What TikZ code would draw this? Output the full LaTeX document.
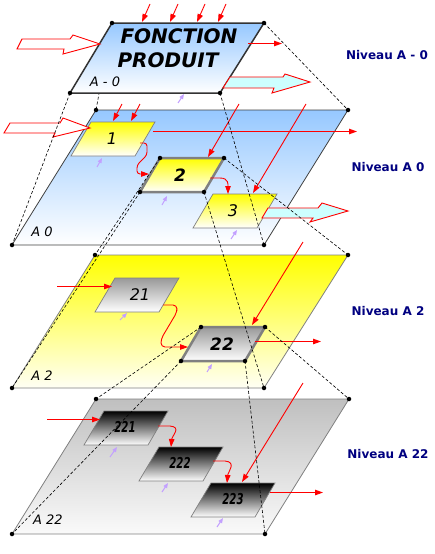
\documentclass[tikz,border=0pt]{standalone}
\usepackage{fontspec}
\setsansfont{DejaVu Sans}
\usetikzlibrary{arrows.meta}

\definecolor{skyblue}{RGB}{150,200,255}
\definecolor{mechpurple}{RGB}{195,160,255}
\definecolor{paleturq}{RGB}{205,255,255}
\definecolor{navy}{RGB}{0,0,128}

% corners of a skewed box, top left corner given
\newcommand{\pgram}[3]{%
  \coordinate (#1-nw) at (#2,#3);
  \coordinate (#1-ne) at (#2+64,#3);
  \coordinate (#1-se) at (#2+44,#3+34);
  \coordinate (#1-sw) at (#2-20,#3+34);}

\begin{document}
\begin{tikzpicture}[x=1pt, y=-1pt,
  dot/.style={circle, fill=black, inner sep=0pt, minimum size=4.5pt},
  feed/.style={-{Triangle[length=8pt,width=5.5pt]}, red, line width=0.9pt},
  mech/.style={-{Triangle[length=5pt,width=4pt]}, mechpurple, line width=1pt},
  proj/.style={dash pattern=on 3pt off 2pt, line width=0.6pt},
  hollow/.style={draw=red, line width=0.9pt, line join=miter},
  plainbox/.style={draw=gray, line width=0.7pt},
  mainbox/.style={draw=gray, line width=2.5pt},
  numtext/.style={font=\sffamily\itshape\fontsize{16}{16}\selectfont},
  levelname/.style={font=\sffamily\itshape\fontsize{13}{13}\selectfont},
  niveau/.style={font=\sffamily\bfseries\fontsize{12}{14}\selectfont, text=navy}]
  \useasboundingbox (0,0) rectangle (434,554);

  % corners of the planes
  \coordinate (t-nw) at (112,23);  \coordinate (t-ne) at (264,23);
  \coordinate (t-se) at (220,93);  \coordinate (t-sw) at (70,93);
  \coordinate (a-nw) at (96,110);  \coordinate (a-ne) at (348,110);
  \coordinate (a-se) at (264,245); \coordinate (a-sw) at (12,245);
  \coordinate (b-nw) at (95,255);  \coordinate (b-ne) at (348,255);
  \coordinate (b-se) at (264,388); \coordinate (b-sw) at (12,388);
  \coordinate (c-nw) at (96,399);  \coordinate (c-ne) at (349,399);
  \coordinate (c-se) at (265,534); \coordinate (c-sw) at (12,534);

  % boxes
  \pgram{box1}{91}{122}   \pgram{box2}{160}{158}  \pgram{box3}{213}{194}
  \pgram{box21}{115}{278} \pgram{box22}{201}{327}
  \pgram{box221}{104}{411} \pgram{box222}{159}{447} \pgram{box223}{211}{483}

  % ---------- Level A 0 ----------
  \shade[top color=skyblue, bottom color=white] (a-nw) -- (a-ne) -- (a-se) -- (a-sw) -- cycle;
  \draw[black!75, line width=0.8pt] (a-nw) -- (a-ne) -- (a-se) -- (a-sw) -- cycle;
  \node[levelname] (lblA0) at (42,232) {A 0};

  \shadedraw[plainbox, top color=yellow, bottom color=white] (box1-nw) -- (box1-ne) -- (box1-se) -- (box1-sw) -- cycle;
  \shadedraw[mainbox, top color=yellow, bottom color=white] (box2-nw) -- (box2-ne) -- (box2-se) -- (box2-sw) -- cycle;
  \shadedraw[plainbox, top color=yellow, bottom color=white] (box3-nw) -- (box3-ne) -- (box3-se) -- (box3-sw) -- cycle;
  \node[numtext] (n1) at (112,139) {1};
  \node[numtext, font=\sffamily\bfseries\itshape\fontsize{17}{17}\selectfont] (n2) at (180,175) {2};
  \node[numtext] (n3) at (233,211) {3};

  % inputs and outputs of A 0
  \coordinate (a-in1) at (122,104); \coordinate (a-in1e) at (113,121);
  \coordinate (a-in2) at (140,104); \coordinate (a-in2e) at (131,121);
  \draw[feed] (a-in1) -- (a-in1e);
  \draw[feed] (a-in2) -- (a-in2e);
  \coordinate (box1-out) at (153,131.5); \coordinate (a-out1) at (357,131.5);
  \draw[feed] (box1-out) -- (a-out1);
  \coordinate (box1-r) at (140,143); \coordinate (box2-l) at (149,174);
  \draw[feed, rounded corners=3pt] (box1-r) -- (147,143) -- (147,155) -- (137,165) -- (137,174) -- (box2-l);
  \coordinate (box2-r) at (210,178); \coordinate (box3-t) at (228,194);
  \draw[feed] (box2-r) -- (220,178) .. controls (229,178) and (228,185) .. (box3-t);
  \coordinate (a-ctl1) at (239,104); \coordinate (box2-t) at (208,157);
  \draw[feed] (a-ctl1) -- (box2-t);
  \coordinate (a-ctl2) at (306,104); \coordinate (box3-t2) at (253,193);
  \draw[feed] (a-ctl2) -- (box3-t2);
  \draw[hollow, fill=white] (4,133) -- (10,123) -- (60,123) -- (63,118) -- (90,128)
    -- (53,137) -- (55,133) -- cycle;
  \draw[hollow, fill=paleturq] (262,218) -- (268,208) -- (318,208) -- (322,203) -- (348,211)
    -- (310,222) -- (313,218) -- cycle;
  \draw[mech] (97,167) -- (102,158);
  \draw[mech] (162,205) -- (167,196);
  \draw[mech] (231,239) -- (237,230);

  % ---------- Level A 2 ----------
  \shade[top color=yellow, bottom color=yellow!4] (b-nw) -- (b-ne) -- (b-se) -- (b-sw) -- cycle;
  \draw[gray, line width=0.8pt] (b-nw) -- (b-ne) -- (b-se) -- (b-sw) -- cycle;
  \node[levelname] (lblA2) at (42,376) {A 2};

  \shadedraw[plainbox, top color=black!40, bottom color=white] (box21-nw) -- (box21-ne) -- (box21-se) -- (box21-sw) -- cycle;
  \shadedraw[mainbox, top color=black!40, bottom color=white] (box22-nw) -- (box22-ne) -- (box22-se) -- (box22-sw) -- cycle;
  \node[numtext] (n21) at (140,295) {21};
  \node[numtext, font=\sffamily\bfseries\itshape\fontsize{17}{17}\selectfont] (n22) at (222,344) {22};

  \coordinate (b-in) at (57,286.5); \coordinate (box21-l) at (112,286.5);
  \draw[feed] (b-in) -- (box21-l);
  \coordinate (box21-r) at (163,305); \coordinate (box22-l) at (188,347);
  \draw[feed, rounded corners=4pt] (box21-r) -- (177,305) -- (177,312) -- (161,339) -- (161,347) -- (box22-l);
  \coordinate (b-ctl) at (303,242); \coordinate (box22-t) at (252,325);
  \draw[feed] (b-ctl) -- (box22-t);
  \coordinate (box22-r) at (255,341.5); \coordinate (b-out) at (321,341.5);
  \draw[feed] (box22-r) -- (b-out);
  \draw[mech] (120,320) -- (127,313);
  \draw[mech] (207,372) -- (212,364);

  % ---------- Level A 22 ----------
  \shade[top color=black!25, bottom color=black!2] (c-nw) -- (c-ne) -- (c-se) -- (c-sw) -- cycle;
  \draw[gray, line width=0.8pt] (c-nw) -- (c-ne) -- (c-se) -- (c-sw) -- cycle;
  \node[levelname] (lblA22) at (48,520) {A 22};

  \shadedraw[plainbox, top color=black, middle color=black!25, bottom color=white] (box221-nw) -- (box221-ne) -- (box221-se) -- (box221-sw) -- cycle;
  \shadedraw[plainbox, top color=black, middle color=black!25, bottom color=white] (box222-nw) -- (box222-ne) -- (box222-se) -- (box222-sw) -- cycle;
  \shadedraw[plainbox, top color=black, middle color=black!25, bottom color=white] (box223-nw) -- (box223-ne) -- (box223-se) -- (box223-sw) -- cycle;
  \node[font=\sffamily\bfseries\itshape\fontsize{15}{15}\selectfont] (n221) at (125,427) {\scalebox{0.68}[1]{221}};
  \node[font=\sffamily\bfseries\itshape\fontsize{15}{15}\selectfont] (n222) at (180,463) {\scalebox{0.68}[1]{222}};
  \node[font=\sffamily\bfseries\itshape\fontsize{15}{15}\selectfont] (n223) at (233,499) {\scalebox{0.68}[1]{223}};

  \coordinate (c-in) at (47,419.5); \coordinate (box221-l) at (100,419.5);
  \draw[feed] (c-in) -- (box221-l);
  \coordinate (box221-r) at (158,426); \coordinate (box222-t) at (171,447);
  \draw[feed] (box221-r) -- (170,426) .. controls (182,427) and (172,436) .. (box222-t);
  \coordinate (box222-r) at (213,461); \coordinate (box223-t) at (227,483);
  \draw[feed] (box222-r) -- (225,461) .. controls (237,462) and (228,472) .. (box223-t);
  \coordinate (c-ctl) at (303,383); \coordinate (box223-t2) at (242,482);
  \draw[feed] (c-ctl) -- (box223-t2);
  \coordinate (box223-r) at (270,492.5); \coordinate (c-out) at (323,492.5);
  \draw[feed] (box223-r) -- (c-out);
  \draw[mech] (110,457) -- (117,447);
  \draw[mech] (162,492) -- (168,483);
  \draw[mech] (217,527) -- (223,518);

  % ---------- projection lines ----------
  \foreach \c in {nw,ne,se,sw} {
    \draw[proj] (t-\c) -- (a-\c);
    \draw[proj] (box2-\c) -- (b-\c);
    \draw[proj] (box22-\c) -- (c-\c);
  }

  % ---------- Level A - 0 ----------
  \shade[top color=skyblue, bottom color=white] (t-nw) -- (t-ne) -- (t-se) -- (t-sw) -- cycle;
  \draw[black!80, line width=1.5pt] (t-nw) -- (t-ne) -- (t-se) -- (t-sw) -- cycle;
  \node[font=\sffamily\bfseries\itshape\fontsize{20}{20}\selectfont] (fonction) at (179,36) {FONCTION};
  \node[font=\sffamily\bfseries\itshape\fontsize{20}{20}\selectfont] (produit) at (168,60) {PRODUIT};
  \node[levelname] (lblAm0) at (105,82) {A - 0};

  \foreach \x [count=\i] in {142,170,197,218} {
    \coordinate (t-src\i) at (\x+8,4);
    \coordinate (t-in\i) at (\x,22);
    \draw[feed] (t-src\i) -- (t-in\i);
  }
  \coordinate (t-r) at (248,43.5); \coordinate (t-out) at (282,43.5);
  \draw[feed] (t-r) -- (t-out);
  \draw[hollow, fill=white] (17,49) -- (22,39) -- (70,39) -- (73,35) -- (100,44)
    -- (63,54) -- (64,49) -- cycle;
  \draw[hollow, fill=paleturq] (223,88) -- (230,77) -- (283,77) -- (285,74) -- (310,82)
    -- (272,93) -- (274,88) -- cycle;
  \draw[mech] (178,103) -- (184,94);

  % corner dots
  \foreach \p in {t,a,b,c,box2,box22}
    \foreach \c in {nw,ne,se,sw}
      \node[dot] at (\p-\c) {};

  % level names
  \node[niveau] (nivm0) at (387,55) {Niveau A - 0};
  \node[niveau] (niv0) at (388,167) {Niveau A 0};
  \node[niveau] (niv2) at (388,311) {Niveau A 2};
  \node[niveau] (niv22) at (388,454) {Niveau A 22};
\end{tikzpicture}
\end{document}
